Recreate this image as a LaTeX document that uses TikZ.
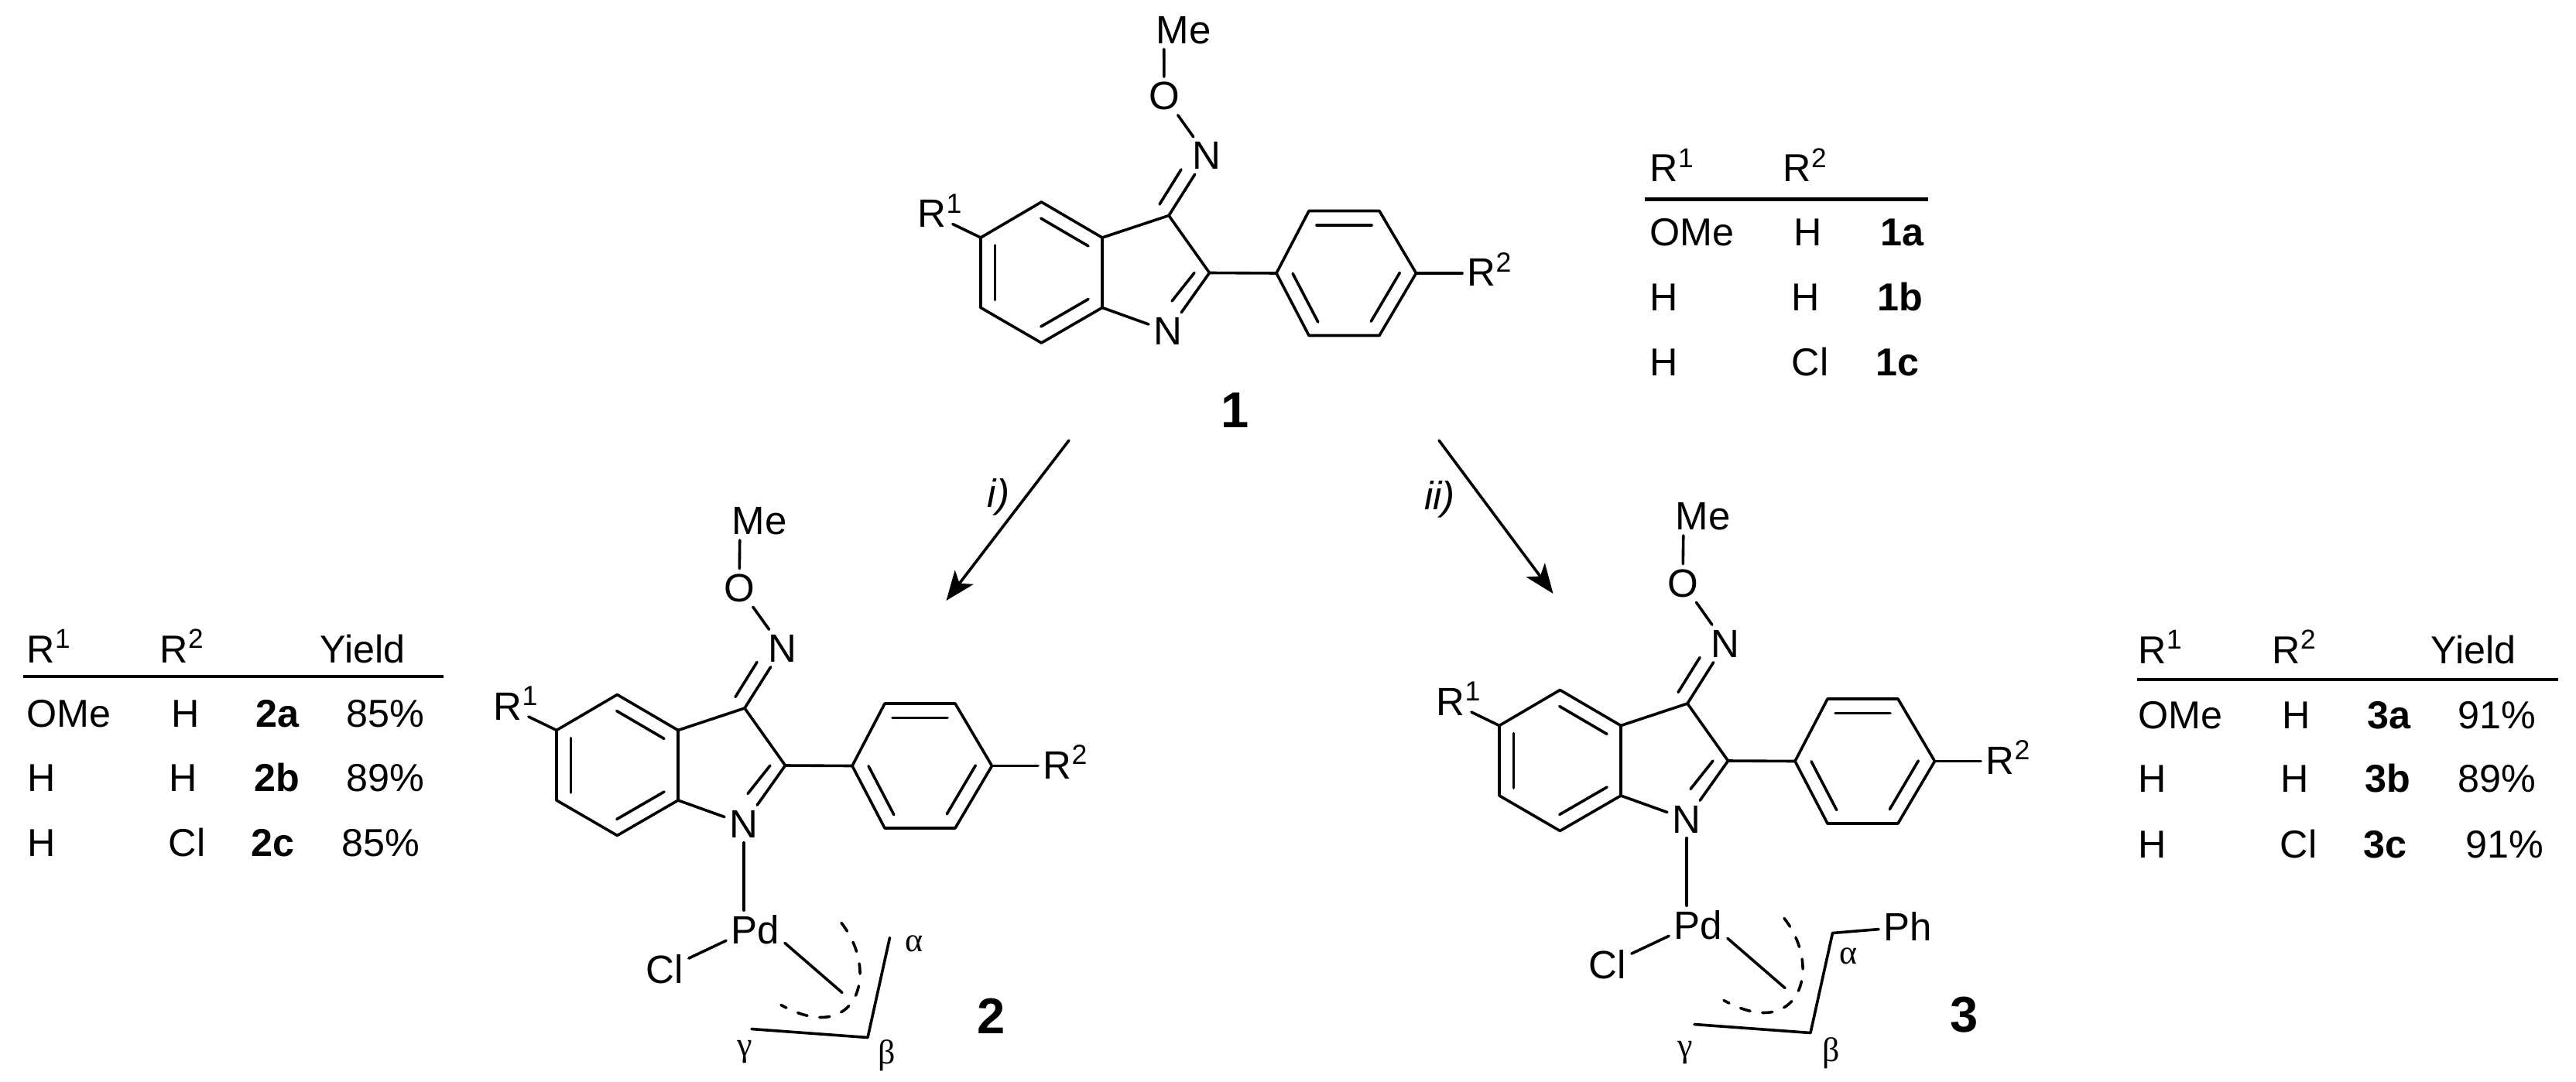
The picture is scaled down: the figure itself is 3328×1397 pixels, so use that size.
\documentclass[tikz,border=0pt]{standalone}
\usepackage{fontspec}
\setmainfont{Liberation Sans}
\newfontfamily\greekfont{Liberation Serif}
\usetikzlibrary{calc}
\usetikzlibrary{arrows.meta}
\tikzset{
	>={Stealth[length=.38cm,width=.3cm,inset=.1cm]},
	bond/.style={draw, line width=.036cm, line cap=round},
	atom/.style={
		inner sep=.06cm,
		font=\fontsize{14.5}{16}\selectfont},
	greeklabel/.style={
		inner sep=0pt,
		font=\fontsize{12.5}{14}\selectfont\greekfont},
	compound/.style={
		inner sep=0pt,
		font=\fontsize{18.5}{20}\selectfont\bfseries},
	reagent/.style={
		inner sep=0pt,
		font=\fontsize{14.5}{16}\selectfont\itshape},
	tabcell/.style={
		anchor=base west,
		inner sep=0pt,
		font=\fontsize{14.3}{16}\selectfont},
	tabrule/.style={draw, line width=.042cm},
}
% ring system and oxime arm, everything relative to the shift of the scope
\newcommand\innerbond[2]{\draw[bond] ($(#1)!.11!(#2)!.185cm!90:(#2)$) -- ($(#2)!.11!(#1)!.185cm!-90:(#1)$);}
\newcommand\oximecore[3]{
	\coordinate (c3a) at (0,0);
	\coordinate (c4) at (-78.6,-46);
	\coordinate (c5) at (-157,0);
	\coordinate (c6) at (-157,90.5);
	\coordinate (c7) at (-78.6,136);
	\coordinate (c7a) at (0,90.5);
	\coordinate (c3) at (86,-28.5);
	\coordinate (c2) at (138.5,45.5);
	\coordinate (p1) at (225,46);
	\coordinate (p2) at (267,-34.5);
	\coordinate (p3) at (358,-34.5);
	\coordinate (p4) at (405.5,46);
	\coordinate (p5) at (358,126.5);
	\coordinate (p6) at (267,126.5);
	\node[atom] (n1) at (85,121) {N};
	\node[atom] (nox) at (#1) {N};
	\node[atom] (oxy) at (#2) {O};
	\node[atom] (me) at (#3) {Me};
	\node[atom, anchor=base west] (r1) at (-245,-13.5) {R\textsuperscript{1}};
	\node[atom, anchor=base west] (r2) at (465,62.5) {R\textsuperscript{2}};
	\draw[bond, line join=round] (c3a) -- (c4) -- (c5) -- (c6) -- (c7) -- (c7a) -- cycle;
	\draw[bond, line join=round] (c3a) -- (c3) -- (c2) -- (p1);
	\draw[bond, line join=round] (p1) -- (p2) -- (p3) -- (p4) -- (p5) -- (p6) -- cycle;
	\innerbond{c5}{c6}
	\innerbond{c3a}{c4}
	\innerbond{c7}{c7a}
	\innerbond{p3}{p2}
	\innerbond{p1}{p6}
	\innerbond{p5}{p4}
	\draw[bond] (c7a) -- (n1);
	\draw[bond] (c2) -- (n1);
	\coordinate (nin1) at (119,45.5);
	\coordinate (nin2) at (90,82);
	\draw[bond] (nin1) -- (nin2);
	\draw[bond] (c3) -- (nox);
	\coordinate (oxin1) at (74,-43);
	\coordinate (oxin2) at (102,-88);
	\draw[bond] (oxin1) -- (oxin2);
	\draw[bond] (nox) -- (oxy);
	\draw[bond] (oxy) -- ($(me.south)!.6!(me.south west)$);
	\draw[bond] (c5) -- ($(r1.base east)+(-20,-4)$);
	\draw[bond] (p4) -- (r2.west |- p4);
}
% palladium with the allyl ligand
\newcommand\pdallyl{
	\node[atom] (pd) at (100,258) {Pd};
	\node[atom] (cl) at (-17,309) {Cl};
	\coordinate (alpha) at (273.5,268);
	\coordinate (beta) at (245,397);
	\coordinate (gamma) at (95,386);
	\coordinate (allyl) at (212,339);
	\draw[bond] (n1.south) -- (n1.south |- pd.north);
	\draw[bond] (pd.200) -- (cl.25);
	\draw[bond] (pd.-24) -- (allyl);
	\draw[bond, line join=round] (alpha) -- (beta) -- (gamma);
	\draw[bond, dash pattern=on .13cm off .16cm] (211,249) .. controls (262,314) and (230,409) .. (133,355);
}

\begin{document}
\begin{tikzpicture}[x=.01cm,y=-.01cm]
	\useasboundingbox (0,0) rectangle (3328,1397);

	\begin{scope}[shift={(1424,307)},name prefix=one-]
		\oximecore{135,-106}{80,-183}{105,-268}
	\end{scope}
	\begin{scope}[shift={(876,943.5)},name prefix=two-]
		\oximecore{135,-106}{79,-184}{105,-270}
		\pdallyl
		\node[greeklabel] (two-a) at (304.5,276) {α};
		\node[greeklabel] (two-b) at (270,420) {β};
		\node[greeklabel] (two-g) at (86,416) {γ};
	\end{scope}
	\begin{scope}[shift={(2094,937.5)},name prefix=three-]
		\oximecore{135,-106}{80,-184}{106,-270}
		\pdallyl
		\node[atom] (ph) at (371,260) {Ph};
		\draw[bond] (alpha) -- (ph);
		\node[greeklabel] (three-a) at (294,298) {α};
		\node[greeklabel] (three-b) at (272,423) {β};
		\node[greeklabel] (three-g) at (83,423) {γ};
	\end{scope}

	\node[compound] (no1) at (1596,530) {1};
	\node[compound] (no2) at (1281,1313) {2};
	\node[compound] (no3) at (2538,1311) {3};

	\coordinate (from1a) at (1381,569);
	\coordinate (to2) at (1222.5,776);
	\coordinate (from1b) at (1859,569);
	\coordinate (to3) at (2006.5,767);
	\draw[bond, ->] (from1a) -- (to2);
	\draw[bond, ->] (from1b) -- (to3);
	\node[reagent] (stepi) at (1290,642) {i)};
	\node[reagent] (stepii) at (1860,645) {ii)};

	% table of 1
	\foreach \nm/\x/\y/\txt in {
		ah1/2131/235/{R\textsuperscript{1}}, ah2/2303/235/{R\textsuperscript{2}},
		aa1/2131/317/OMe, aa2/2317/317/H, aa3/2429/317/{\textbf{1a}},
		ab1/2131/401/H, ab2/2314/401/H, ab3/2425/401/{\textbf{1b}},
		ac1/2131/485/H, ac2/2314/485/Cl, ac3/2423/485/{\textbf{1c}}}
		\node[tabcell] (\nm) at (\x,\y) {\txt};
	\coordinate (arule1) at (2125,257.5);
	\coordinate (arule2) at (2491,257.5);
	\draw[tabrule] (arule1) -- (arule2);

	% table of 2
	\foreach \nm/\x/\y/\txt in {
		bh1/34/856/{R\textsuperscript{1}}, bh2/206/856/{R\textsuperscript{2}}, bh3/413/856/Yield,
		ba1/34/939/OMe, ba2/221/939/H, ba3/330/939/{\textbf{2a}}, ba4/447/939/85\%,
		bb1/35/1022/H, bb2/218/1022/H, bb3/328/1022/{\textbf{2b}}, bb4/447/1022/89\%,
		bc1/35/1106/H, bc2/217/1106/Cl, bc3/324/1106/{\textbf{2c}}, bc4/441/1106/85\%}
		\node[tabcell] (\nm) at (\x,\y) {\txt};
	\coordinate (brule1) at (30,874);
	\coordinate (brule2) at (573,874);
	\draw[tabrule] (brule1) -- (brule2);

	% table of 3
	\foreach \nm/\x/\y/\txt in {
		ch1/2762/857/{R\textsuperscript{1}}, ch2/2935/857/{R\textsuperscript{2}}, ch3/3140/857/Yield,
		ca1/2762/941/OMe, ca2/2948/941/H, ca3/3058/941/{\textbf{3a}}, ca4/3175/941/91\%,
		cb1/2762/1023/H, cb2/2946/1023/H, cb3/3055/1023/{\textbf{3b}}, cb4/3175/1023/89\%,
		cc1/2762/1108/H, cc2/2945/1108/Cl, cc3/3053/1108/{\textbf{3c}}, cc4/3185/1108/91\%}
		\node[tabcell] (\nm) at (\x,\y) {\txt};
	\coordinate (crule1) at (2761,878);
	\coordinate (crule2) at (3305,878);
	\draw[tabrule] (crule1) -- (crule2);
\end{tikzpicture}
\end{document}
